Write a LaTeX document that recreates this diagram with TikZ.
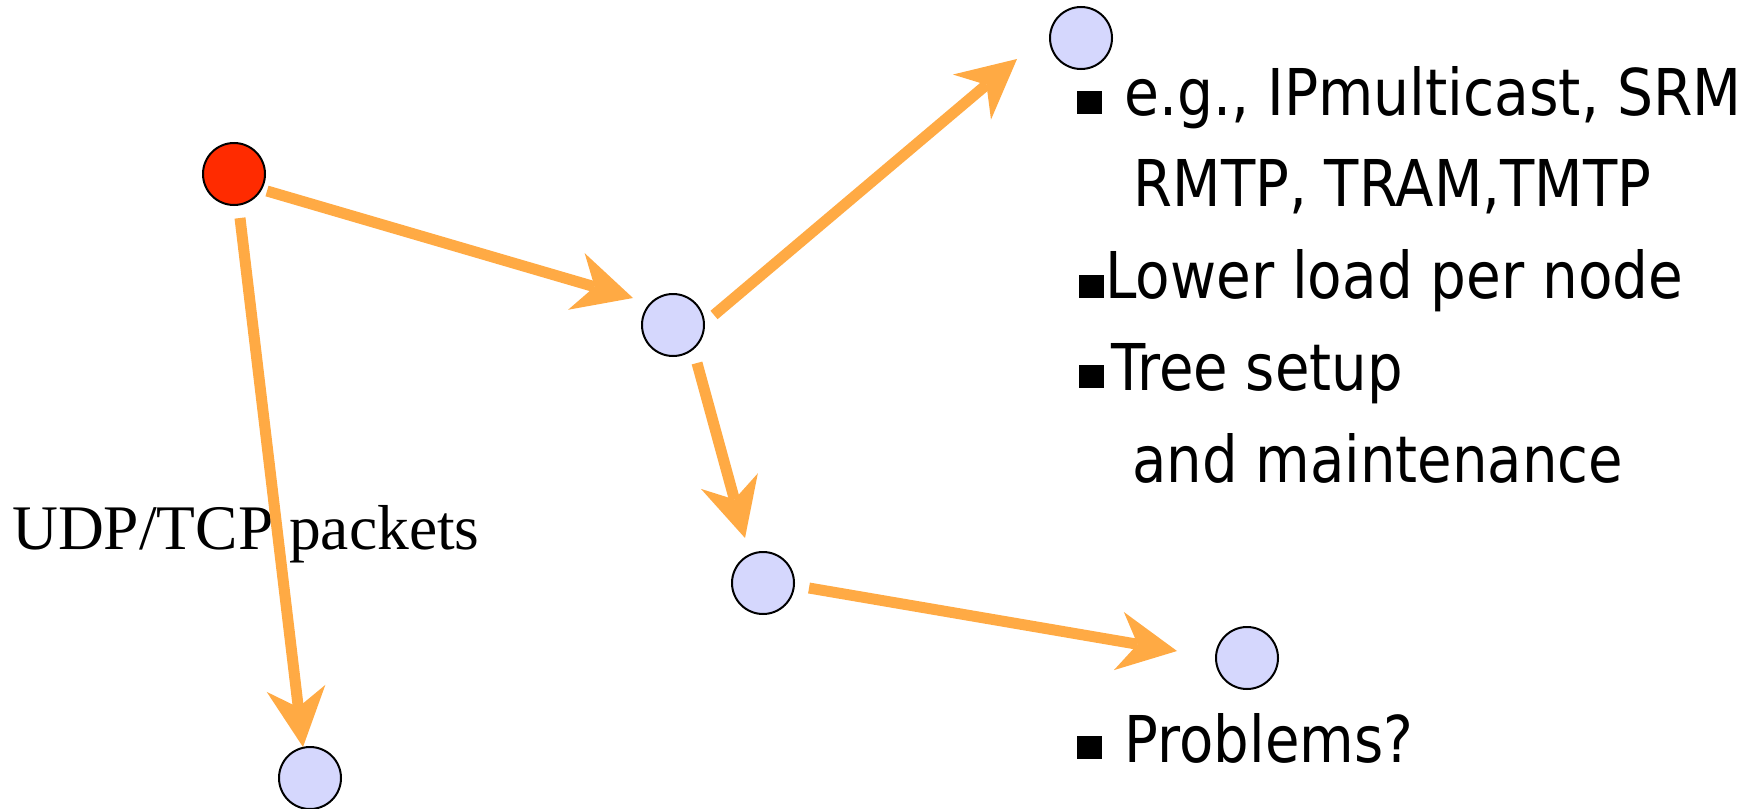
\documentclass[tikz,border=0pt]{standalone}
\usepackage{fontspec}
\usepackage{graphicx}
\usetikzlibrary{arrows.meta,calc}
\newfontfamily\sansf{DejaVu Sans}
\newfontfamily\seriff{Liberation Serif}
\definecolor{arrorange}{HTML}{FFAA44}
\definecolor{nodeblue}{HTML}{D5D7FD}
\definecolor{srcred}{HTML}{FF2B00}
\begin{document}
\begin{tikzpicture}[x=1pt,y=-1pt,
  host/.style={circle,draw=black,line width=2pt,fill=nodeblue,minimum size=62pt,inner sep=0pt},
  source/.style={host,fill=srcred},
  flow/.style={draw=arrorange,line width=11pt,-{Stealth[length=59pt,width=59pt,inset=19pt,line width=0pt]}},
  item/.style={anchor=base west,inner sep=0pt,font=\sansf\fontsize{64.5}{70}\selectfont},
  sq/.style={fill=black,inner sep=0pt,minimum width=25pt,minimum height=23pt},
  lbl/.style={anchor=base west,inner sep=0pt,font=\seriff\fontsize{63.5}{70}\selectfont}]
\useasboundingbox (0,0) rectangle (1752,808);

% label drawn first (arrow passes over it)
\node[lbl] (udp) at (12,549) {UDP/TCP packets};

% hosts
\node[source] (R) at (234,174) {};
\node[host] (M) at (673,325) {};
\node[host] (T) at (1081,38) {};
\node[host] (L) at (763,583) {};
\node[host] (BR) at (1247,658) {};
\node[host] (B1) at (310,778) {};

% connectors
\draw[flow] ($(R)+(33,17)$) -- ($(M)+(-40,-27)$);
\draw[flow] ($(R)+(6,44)$) -- ($(B1)+(-7,-31)$);
\draw[flow] ($(M)+(41,-10)$) -- ($(T)+(-64,21)$);
\draw[flow] ($(M)+(24,38)$) -- ($(L)+(-18,-45)$);
\draw[flow] ($(L)+(46,5)$) -- ($(BR)+(-70,-7)$);

% bullets
\node[sq] (s1) at (1089.5,102) {};
\node[sq] (s3) at (1091,286) {};
\node[sq] (s4) at (1091,376) {};
\node[sq] (s6) at (1089.5,747) {};

% text
\node[item] (t1) at (1124,115) {\scalebox{0.88}[1]{e.g., IPmulticast, SRM}};
\node[item] (t2) at (1133.5,206) {\scalebox{0.87}[1]{RMTP, TRAM,TMTP}};
\node[item] (t3) at (1105,298) {\scalebox{0.875}[1]{Lower load per node}};
\node[item] (t4) at (1111,390) {\scalebox{0.87}[1]{Tree setup}};
\node[item] (t5) at (1132,482) {\scalebox{0.87}[1]{and maintenance}};
\node[item] (t6) at (1124.5,762) {\scalebox{0.87}[1]{Problems?}};
\end{tikzpicture}
\end{document}
